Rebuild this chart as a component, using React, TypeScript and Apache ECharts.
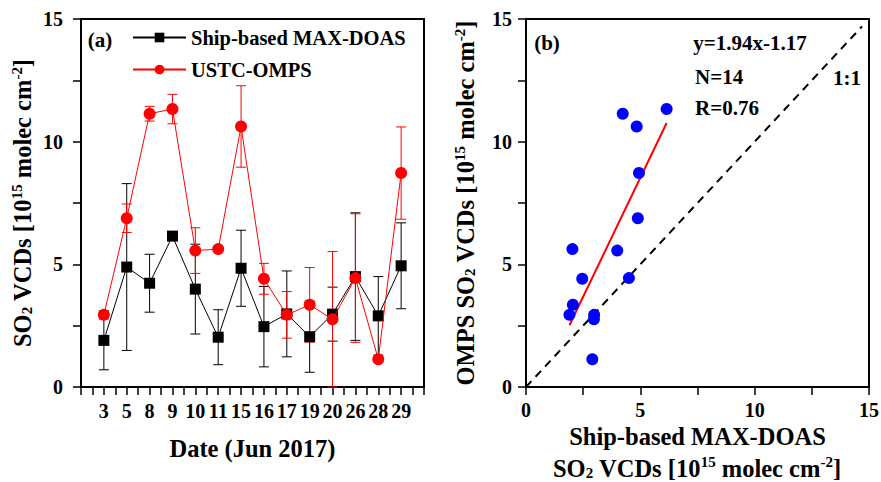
import React, { useEffect, useRef } from 'react';
import * as echarts from 'echarts';

const days = ['3', '5', '8', '9', '10', '11', '15', '16', '17', '19', '20', '26', '28', '29'];
const shipValues = [1.9, 4.89, 4.23, 6.15, 3.99, 2.03, 4.84, 2.46, 2.98, 2.05, 2.97, 4.5, 2.9, 4.94];
const shipErrors = [1.2, 3.4, 1.18, 0.15, 1.83, 1.12, 1.55, 1.64, 1.75, 1.45, 1.1, 2.6, 1.6, 1.75];
const ompsValues = [2.94, 6.88, 11.14, 11.33, 5.56, 5.62, 10.62, 4.41, 2.94, 3.35, 2.76, 4.44, 1.13, 8.72];
const ompsErrors = [0.17, 0.58, 0.3, 0.6, 0.93, 0, 1.66, 0.63, 0.95, 1.52, 2.76, 2.62, 0, 1.88];
const yTickLabels = [0, 5, 10, 15];
const xTickLabelsB = [0, 5, 10, 15];
const fitSlope = 1.94;
const fitIntercept = -1.17;
const oneToOneRange = [0, 14.7];

const FONT = 'Liberation Serif';
const TITLE = 24.5;

function errorRenderer(color: string) {
  return (params: any, api: any) => {
    const x = api.value(0);
    const lo = api.value(1);
    const hi = api.value(2);
    const pLo = api.coord([x, lo]);
    const pHi = api.coord([x, hi]);
    const hw = 5;
    const style = { stroke: color, lineWidth: 1 };
    return {
      type: 'group',
      children: [
        { type: 'line', shape: { x1: pLo[0], y1: pLo[1], x2: pHi[0], y2: pHi[1] }, style },
        { type: 'line', shape: { x1: pLo[0] - hw, y1: pLo[1], x2: pLo[0] + hw, y2: pLo[1] }, style },
        { type: 'line', shape: { x1: pHi[0] - hw, y1: pHi[1], x2: pHi[0] + hw, y2: pHi[1] }, style },
      ],
    };
  };
}

function makeRich(size: number, fillKey: string) {
  const s = Math.round(size * 0.62);
  return {
    sup: { fontFamily: FONT, fontWeight: 'bold', fontSize: s, [fillKey]: '#000', padding: [0, 0, Math.round(size * 0.5), 0] },
    sub: { fontFamily: FONT, fontWeight: 'bold', fontSize: s, [fillKey]: '#000', padding: [Math.round(size * 0.38), 0, 0, 0] },
  };
}

export default function App() {
  const ref = useRef<HTMLDivElement>(null);

  useEffect(() => {
    if (!ref.current) return;
    const chart = echarts.init(ref.current, undefined, { renderer: 'svg' });

    const labelStyle = { fontFamily: FONT, fontWeight: 'bold' as const, fontSize: 20, color: '#000' };
    const nameStyle = (size: number) => ({ fontFamily: FONT, fontWeight: 'bold' as const, fontSize: size, color: '#000', rich: makeRich(size, 'color') });
    const axisLine = { show: true, onZero: false, lineStyle: { color: '#000', width: 2 } };
    const axisTick = { show: true, inside: false, length: 8, lineStyle: { color: '#000', width: 1.5 } };

    const isMult = (v: number, m: number) => Math.abs(v / m - Math.round(v / m)) < 1e-6;

    const shipXY = shipValues.map((v, i) => [i + 1, v]);
    const ompsXY = ompsValues.map((v, i) => [i + 1, v]);
    const shipErr = shipValues.map((v, i) => [i + 1, v - shipErrors[i], v + shipErrors[i]]);
    const ompsErr = ompsValues.map((v, i) => [i + 1, Math.max(0, v - ompsErrors[i]), v + ompsErrors[i]]);
    const scatter = shipValues.map((v, i) => [v, ompsValues[i]]);
    const xMin = Math.min(...shipValues);
    const xMax = Math.max(...shipValues);
    const fit = [
      [xMin, fitSlope * xMin + fitIntercept],
      [xMax, fitSlope * xMax + fitIntercept],
    ];
    const diag = oneToOneRange.map((v) => [v, v]);

    const textBase = { fontFamily: FONT, fontWeight: 'bold', fontSize: 21, fill: '#000' };
    const txt = (text: string, x: number, y: number, align: string) => ({
      type: 'text',
      x,
      y,
      style: { ...textBase, text, align, verticalAlign: 'middle', textAlign: align, textVerticalAlign: 'middle' },
    });

    chart.setOption({
      animation: false,
      backgroundColor: '#fff',
      grid: [
        { left: 81, top: 19, width: 343, height: 368, show: true, borderColor: '#000', borderWidth: 2, backgroundColor: 'transparent', outerBoundsMode: 'none', containLabel: false },
        { left: 526, top: 19, width: 343, height: 368, show: true, borderColor: '#000', borderWidth: 2, backgroundColor: 'transparent', outerBoundsMode: 'none', containLabel: false },
      ],
      legend: {
        left: 127,
        top: 22,
        orient: 'vertical',
        itemWidth: 53,
        itemHeight: 12,
        itemGap: 11,
        data: ['Ship-based MAX-DOAS', 'USTC-OMPS'],
        textStyle: { fontFamily: FONT, fontWeight: 'bold', fontSize: 20.5, color: '#000' },
      },
      xAxis: [
        {
          gridIndex: 0,
          type: 'value',
          min: 0,
          max: 15,
          interval: 0.5,
          axisLine,
          axisTick,
          splitLine: { show: false },
          axisLabel: {
            ...labelStyle,
            margin: 14,
            formatter: (v: number) => (isMult(v, 1) && v >= 1 && v <= days.length ? days[Math.round(v) - 1] : ''),
          },
          name: 'Date (Jun 2017)',
          nameLocation: 'middle',
          nameGap: 49,
          nameMoveOverlap: false,
          nameTextStyle: nameStyle(TITLE),
        },
        {
          gridIndex: 1,
          type: 'value',
          min: 0,
          max: 15,
          interval: 2.5,
          axisLine,
          axisTick,
          splitLine: { show: false },
          axisLabel: {
            ...labelStyle,
            margin: 13,
            lineHeight: 20,
            formatter: (v: number) => (xTickLabelsB.some((t) => Math.abs(t - v) < 1e-6) ? String(v) : ''),
          },
          name: 'Ship-based MAX-DOAS',
          nameLocation: 'middle',
          nameGap: 37,
          nameMoveOverlap: false,
          nameTextStyle: { ...nameStyle(TITLE), lineHeight: 24 },
        },
      ],
      yAxis: [
        {
          gridIndex: 0,
          type: 'value',
          min: 0,
          max: 15,
          interval: 2.5,
          axisLine,
          axisTick,
          splitLine: { show: false },
          axisLabel: {
            ...labelStyle,
            margin: 18,
            formatter: (v: number) => (yTickLabels.some((t) => Math.abs(t - v) < 1e-6) ? String(v) : ''),
          },
          name: 'SO{sub|2} VCDs [10{sup|15} molec cm{sup|-2}]',
          nameLocation: 'middle',
          nameRotate: 90,
          nameGap: 45,
          nameMoveOverlap: false,
          nameTextStyle: nameStyle(TITLE),
        },
        {
          gridIndex: 1,
          type: 'value',
          min: 0,
          max: 15,
          interval: 2.5,
          axisLine,
          axisTick,
          splitLine: { show: false },
          axisLabel: {
            ...labelStyle,
            margin: 14,
            formatter: (v: number) => (yTickLabels.some((t) => Math.abs(t - v) < 1e-6) ? String(v) : ''),
          },
          name: 'OMPS SO{sub|2} VCDs [10{sup|15} molec cm{sup|-2}]',
          nameLocation: 'middle',
          nameRotate: 90,
          nameGap: 47,
          nameMoveOverlap: false,
          nameTextStyle: nameStyle(TITLE),
        },
      ],
      series: [
        {
          name: 'shipErr',
          type: 'custom',
          xAxisIndex: 0,
          yAxisIndex: 0,
          data: shipErr,
          encode: { x: 0, y: [1, 2] },
          renderItem: errorRenderer('#000'),
          z: 2,
          silent: true,
        },
        {
          name: 'ompsErr',
          type: 'custom',
          xAxisIndex: 0,
          yAxisIndex: 0,
          data: ompsErr,
          encode: { x: 0, y: [1, 2] },
          renderItem: errorRenderer('#ff0000'),
          z: 2,
          silent: true,
        },
        {
          name: 'Ship-based MAX-DOAS',
          type: 'line',
          xAxisIndex: 0,
          yAxisIndex: 0,
          data: shipXY,
          symbol: 'rect',
          symbolSize: 11,
          itemStyle: { color: '#000' },
          lineStyle: { color: '#000', width: 1 },
          z: 3,
        },
        {
          name: 'USTC-OMPS',
          type: 'line',
          xAxisIndex: 0,
          yAxisIndex: 0,
          data: ompsXY,
          symbol: 'circle',
          symbolSize: 12,
          itemStyle: { color: '#ff0000' },
          lineStyle: { color: '#ff0000', width: 1 },
          z: 4,
        },
        {
          name: 'scatter',
          type: 'scatter',
          xAxisIndex: 1,
          yAxisIndex: 1,
          data: scatter,
          symbolSize: 12,
          itemStyle: { color: '#0000ff', opacity: 1 },
          z: 4,
        },
        {
          name: 'fit',
          type: 'line',
          xAxisIndex: 1,
          yAxisIndex: 1,
          data: fit,
          symbol: 'none',
          lineStyle: { color: '#ff0000', width: 2 },
          z: 3,
        },
        {
          name: 'oneToOne',
          type: 'line',
          xAxisIndex: 1,
          yAxisIndex: 1,
          data: diag,
          symbol: 'none',
          lineStyle: { color: '#000', width: 2, type: [8, 6] },
          z: 3,
        },
      ],
      graphic: [
        txt('(a)', 100, 40, 'center'),
        txt('(b)', 547, 43, 'center'),
        txt('y=1.94x-1.17', 750, 43, 'center'),
        txt('N=14', 695, 77, 'left'),
        txt('R=0.76', 695, 108, 'left'),
        txt('1:1', 847, 78, 'center'),
        {
          type: 'text',
          x: 697,
          y: 468,
          style: {
            text: 'SO{sub|2} VCDs [10{sup|15} molec cm{sup|-2}]',
            fontFamily: FONT,
            fontWeight: 'bold',
            fontSize: TITLE,
            fill: '#000',
            align: 'center',
            verticalAlign: 'middle',
            textAlign: 'center',
            textVerticalAlign: 'middle',
            rich: makeRich(TITLE, 'fill'),
          },
        },
      ],
    });

    return () => chart.dispose();
  }, []);

  return <div ref={ref} style={{ position: 'fixed', left: 0, top: 0, width: 881, height: 482, background: '#fff' }} />;
}
